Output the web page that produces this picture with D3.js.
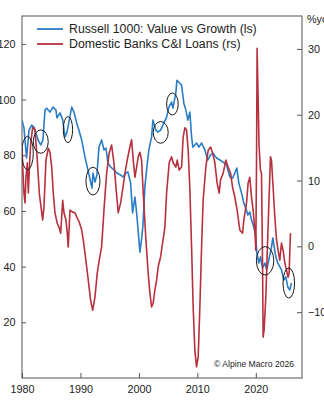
<!DOCTYPE html>
<html><head><meta charset="utf-8">
<script src="https://cdn.jsdelivr.net/npm/d3@7"></script>
<style>
body{margin:0;background:#fff}
svg{display:block}
text{font-family:Arial,"Liberation Sans",Helvetica,sans-serif;fill:#222}
</style>
</head><body><svg id="c" width="324" height="400"></svg>
<script>
// Russell 1000: Value vs Growth (left scale)
const valueGrowthYears = [1980.0,1980.34,1980.51,1980.78,1981.2,1981.66,1982.05,1982.39,1982.74,1983.2,1983.59,1983.93,1984.22,1984.79,1985.3,1985.81,1985.98,1986.5,1986.96,1987.35,1987.69,1988.03,1988.5,1988.89,1989.35,1989.74,1990.21,1990.77,1991.28,1991.74,1991.97,1992.14,1992.48,1992.82,1993.16,1993.62,1994.02,1994.36,1994.7,1995.16,1995.73,1996.24,1996.87,1997.26,1997.78,1998.12,1998.58,1998.92,1999.32,1999.66,2000.17,2000.46,2000.68,2001.03,2001.37,2001.71,2002.17,2002.39,2002.91,2003.25,2003.71,2004.1,2004.74,2005.13,2005.59,2005.81,2006.32,2006.5,2006.84,2007.3,2007.69,2008.03,2008.38,2008.72,2009.01,2009.23,2009.86,2010.26,2010.72,2011.28,2011.79,2012.26,2012.65,2013.28,2013.85,2014.36,2014.99,2015.56,2016.02,2016.41,2016.75,2017.09,2017.56,2017.95,2018.41,2018.63,2018.97,2019.26,2019.66,2020.0,2020.17,2020.51,2020.8,2021.15,2021.54,2021.88,2022.22,2022.68,2022.91,2023.42,2023.76,2024.39,2024.79,2025.13,2025.47,2025.81,2026.1];
const valueGrowth = [92.6,89.8,85.5,79.0,89.0,90.8,90.1,88.0,85.5,83.7,85.5,96.2,96.9,95.5,97.3,96.2,93.4,95.2,92.7,86.6,88.3,91.9,97.3,95.5,91.6,89.0,85.5,79.4,74.7,70.4,68.2,73.6,70.4,72.9,82.9,85.5,81.9,82.6,77.2,75.8,74.7,73.6,72.9,72.2,73.6,74.0,70.0,59.3,65.0,58.2,45.2,49.9,54.6,68.9,75.8,82.0,86.6,92.6,89.0,88.3,89.0,90.8,93.7,97.3,99.1,96.9,102.3,106.9,106.2,105.1,98.7,96.2,92.6,95.5,86.6,82.9,84.4,82.9,84.4,81.9,78.3,80.1,80.8,79.0,78.3,77.6,76.5,72.2,71.8,73.6,75.4,70.0,66.4,62.8,60.3,58.5,59.6,56.7,54.2,50.6,44.9,41.3,43.5,39.5,41.3,38.8,42.4,47.0,50.3,43.5,41.3,38.8,35.2,36.3,32.7,31.6,34.1];

// Domestic Banks C&I Loans, %yoy (right scale)
const loanYears = [1980.0,1980.12,1980.34,1980.51,1980.68,1980.91,1981.08,1981.25,1981.49,1981.83,1982.22,1982.62,1982.96,1983.25,1983.54,1983.76,1984.1,1984.5,1984.79,1985.08,1985.35,1985.64,1986.03,1986.38,1986.62,1986.96,1987.18,1987.52,1987.74,1987.91,1988.21,1988.67,1989.06,1989.45,1989.79,1990.21,1990.48,1990.77,1991.06,1991.33,1991.74,1992.09,1992.48,1992.87,1993.21,1993.62,1994.02,1994.48,1994.92,1995.33,1995.73,1996.07,1996.46,1996.87,1997.21,1997.61,1998.0,1998.34,1998.75,1999.03,1999.32,1999.61,1999.88,2000.17,2000.46,2000.74,2001.2,2001.59,2001.88,2002.17,2002.44,2002.74,2003.03,2003.3,2003.71,2004.05,2004.44,2004.74,2005.18,2005.59,2005.86,2006.32,2006.55,2006.89,2007.3,2007.57,2007.86,2008.15,2008.43,2008.72,2009.01,2009.28,2009.57,2009.86,2010.14,2010.43,2010.72,2010.99,2011.45,2011.85,2012.26,2012.6,2012.99,2013.38,2013.73,2013.97,2014.41,2014.87,2015.26,2015.68,2016.02,2016.41,2016.8,2017.26,2017.73,2017.95,2018.41,2018.68,2018.97,2019.26,2019.54,2019.83,2020.0,2020.12,2020.22,2020.39,2020.56,2020.8,2020.97,2021.15,2021.25,2021.42,2021.71,2021.93,2022.27,2022.51,2022.68,2022.96,2023.25,2023.54,2023.81,2024.1,2024.39,2024.67,2024.96,2025.25,2025.52,2025.69,2025.93];
const loanGrowth = [15.0,12.05,8.1,6.6,10.5,12.7,8.1,11.6,15.7,18.1,17.7,13.1,8.1,6.0,4.0,6.0,13.1,14.9,14.3,12.05,8.1,5.1,3.5,2.8,2.0,7.0,5.1,4.0,2.0,-0.1,5.5,5.2,5.1,4.3,3.7,2.5,1.0,-1.0,-3.1,-5.1,-8.2,-9.7,-7.7,-4.1,-2.1,-0.1,5.5,11.1,14.2,15.4,12.7,9.0,5.1,6.6,8.6,11.1,13.1,14.6,16.2,13.1,10.5,12.05,13.6,14.3,13.1,8.1,0.96,-4.1,-7.1,-9.2,-8.6,-6.6,-5.1,-3.1,-1.6,0.5,2.9,8.1,12.7,13.6,12.7,12.05,13.1,11.6,12.05,16.6,18.0,17.7,14.6,8.6,-0.1,-9.2,-15.8,-18.3,-16.8,-9.2,-0.1,7.0,12.05,14.6,15.1,14.2,12.7,9.6,8.1,10.1,11.1,13.1,12.05,11.1,9.0,7.5,5.5,2.5,2.0,4.0,6.6,9.6,10.5,7.5,5.5,2.5,-0.6,12.7,30.1,22.7,15.1,11.6,11.1,-2.5,-13.8,-12.7,-7.7,-1.6,7.5,13.6,13.1,9.0,4.5,1.0,-0.6,-2.1,0.5,-0.6,-2.5,-3.6,-4.7,-4.1,2.0];

// Highlighted episodes (centre year / value on left scale, half-extent in years / index points)
const ellipseYears = [1980.94,1983.21,1987.86,1992.14,2003.73,2005.73,2021.59,2025.64];
const ellipseValues = [80.8,84.9,89.2,70.7,88.2,98.4,42.1,34.1];
const ellipseHalfYears = [0.99,1.28,0.8,1.2,1.28,0.99,1.49,0.99];
const ellipseHalfValues = [6.0,4.2,4.67,5.0,3.9,3.95,5.1,5.4];

const xTicks = [1980,1990,2000,2010,2020];
const leftTicks = [20,40,60,80,100,120];
const rightTicks = [-10,0,10,20,30];
const seriesNames = ["Russell 1000: Value vs Growth (ls)","Domestic Banks C&I Loans (rs)"];
const rightUnit = "%yoy";
const credit = "\u00A9 Alpine Macro 2026";

const BLUE = "#2a7dc4", RED = "#b7303d";
const L = 22, R = 302, T = 16, B = 378;
const svg = d3.select("#c");

const x = d3.scaleLinear().domain([1980, 2027.9]).range([L, R]);
const yL = d3.scaleLinear().domain([0, 130]).range([B, T]);
const yR = d3.scaleLinear().domain([-20, 35]).range([B, T]);

svg.append("clipPath").attr("id","clip").append("rect")
  .attr("x",L).attr("y",T).attr("width",R-L).attr("height",B-T);

// axes
const axL = svg.append("g").attr("transform",`translate(${L},0)`)
  .call(d3.axisLeft(yL).tickValues(leftTicks).tickSizeInner(-4).tickSizeOuter(0).tickPadding(6.5));
const axR = svg.append("g").attr("transform",`translate(${R},0)`)
  .call(d3.axisRight(yR).tickValues(rightTicks).tickSizeInner(-5).tickSizeOuter(0).tickPadding(6));
const axB = svg.append("g").attr("transform",`translate(0,${B})`)
  .call(d3.axisBottom(x).tickValues(xTicks).tickFormat(d3.format("d")).tickSizeInner(-5).tickSizeOuter(0).tickPadding(7.5));
[axL,axR,axB].forEach(g=>{
  g.select(".domain").remove();
  g.selectAll(".tick line").attr("stroke","#555").attr("stroke-width",1);
  g.selectAll(".tick text").attr("fill","#222").style("font-size","10.8px").attr("font-family",null);
});

// frame
svg.append("rect").attr("x",L).attr("y",T).attr("width",R-L).attr("height",B-T)
  .attr("fill","none").attr("stroke","#555").attr("stroke-width",1);

const plot = svg.append("g").attr("clip-path","url(#clip)");
const lineL = d3.line().x(d=>x(d[0])).y(d=>yL(d[1]));
const lineR = d3.line().x(d=>x(d[0])).y(d=>yR(d[1]));
plot.append("path").datum(d3.zip(valueGrowthYears,valueGrowth))
  .attr("d",lineL).attr("fill","none").attr("stroke",BLUE).attr("stroke-width",1.6).attr("stroke-linejoin","round");
plot.append("path").datum(d3.zip(loanYears,loanGrowth))
  .attr("d",lineR).attr("fill","none").attr("stroke",RED).attr("stroke-width",1.6).attr("stroke-linejoin","round");

// ellipses
plot.selectAll("ellipse.hl").data(d3.range(ellipseYears.length)).join("ellipse")
  .attr("class","hl")
  .attr("cx",i=>x(ellipseYears[i]))
  .attr("cy",i=>yL(ellipseValues[i]))
  .attr("rx",i=>x(ellipseYears[i]+ellipseHalfYears[i])-x(ellipseYears[i]))
  .attr("ry",i=>yL(ellipseValues[i]-ellipseHalfValues[i])-yL(ellipseValues[i]))
  .attr("fill","none").attr("stroke","#1a1a1a").attr("stroke-width",1);

// legend
const lg = svg.append("g");
[BLUE,RED].forEach((c,i)=>{
  const yy = 29 + i*15;
  lg.append("line").attr("x1",37).attr("x2",63).attr("y1",yy).attr("y2",yy).attr("stroke",c).attr("stroke-width",1.8);
  lg.append("text").attr("x",69).attr("y",yy).attr("dy","0.35em").style("font-size","12.3px").text(seriesNames[i]);
});

// right unit label
svg.append("text").attr("x",307).attr("y",23).style("font-size","10.8px").text(rightUnit);

// credit
svg.append("text").attr("x",294).attr("y",364).attr("dy","0.35em").attr("text-anchor","end")
  .style("font-size","8.6px").attr("fill","#333").text(credit);
</script>
</body></html>
